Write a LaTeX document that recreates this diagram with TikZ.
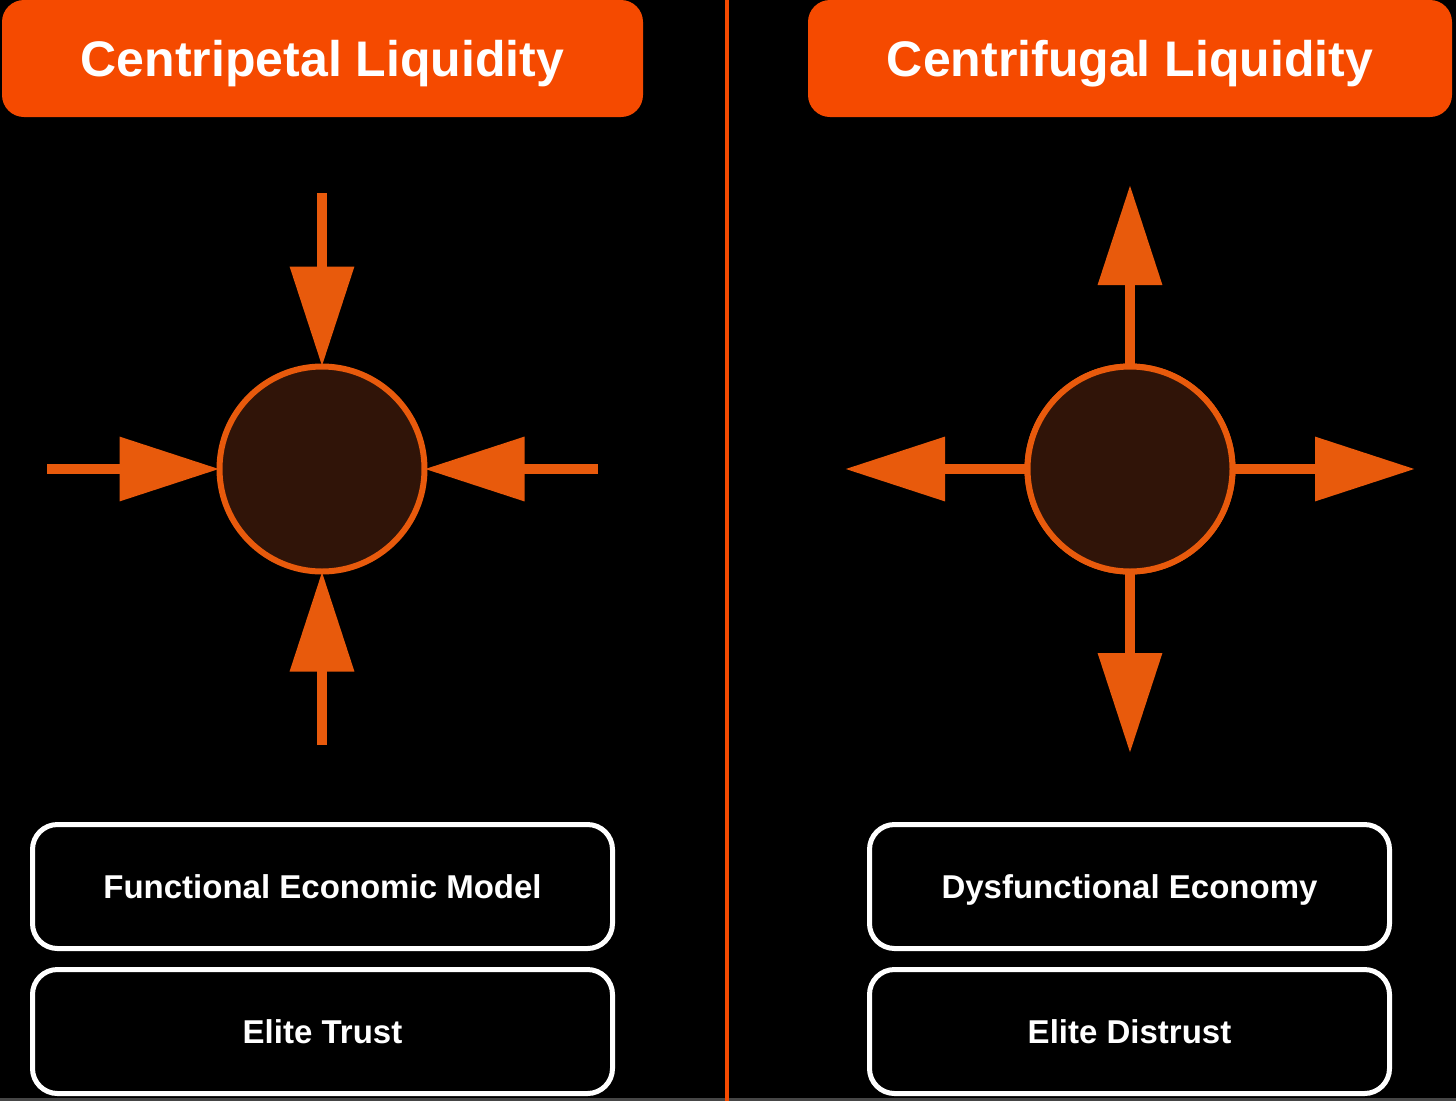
\documentclass[tikz,border=0pt]{standalone}
\usepackage{fontspec}
\setmainfont{Liberation Sans}
\usetikzlibrary{arrows.meta}
\definecolor{hdr}{RGB}{245,74,0}
\definecolor{arrc}{RGB}{232,90,12}
\definecolor{core}{RGB}{48,20,8}
\tikzset{
  header/.style={fill=hdr, draw=none, rounded corners=22pt, minimum height=117pt, inner sep=0pt, text=white, text height=36pt, text depth=0pt, font=\bfseries\fontsize{50}{60}\selectfont},
  hub/.style={circle, draw=arrc, line width=6pt, fill=core, minimum size=205pt, inner sep=0pt, outer sep=0pt},
  arr/.style={draw=arrc, line width=10pt, -{Triangle[length=100pt,width=62pt,fill=arrc]}},
  label box/.style={draw=white, line width=5pt, rounded corners=25pt, minimum height=124pt, inner sep=0pt, text=white, text height=23.6pt, text depth=0pt, font=\bfseries\fontsize{33}{40}\selectfont}
}
\begin{document}
\begin{tikzpicture}[x=1pt,y=-1pt]
\useasboundingbox (0,0) rectangle (1456,1101);
\fill[black] (0,0) rectangle (1456,1101);
\fill[gray!55!black] (0,1098) rectangle (1456,1101);
% divider
\draw[hdr, line width=4pt] (727,0) -- (727,1101);
% headers
\node[header, minimum width=641pt] (h1) at (322.5,58.5) {Centripetal Liquidity};
\node[header, minimum width=644pt] (h2) at (1130,58.5) {Centrifugal Liquidity};
% left: centripetal
\node[hub] (cl) at (322,469) {};
\coordinate (lt) at (322,193);
\coordinate (lb) at (322,745);
\coordinate (ll) at (47,469);
\coordinate (lr) at (598,469);
\draw[arr] (lt) -- (cl.north);
\draw[arr] (lb) -- (cl.south);
\draw[arr] (ll) -- (cl.west);
\draw[arr] (lr) -- (cl.east);
% right: centrifugal
\node[hub] (cr) at (1130,469) {};
\coordinate (rt) at (1130,185);
\coordinate (rb) at (1130,753);
\coordinate (rl) at (845,469);
\coordinate (rr) at (1415,469);
\draw[arr] (cr.north) -- (rt);
\draw[arr] (cr.south) -- (rb);
\draw[arr] (cr.west) -- (rl);
\draw[arr] (cr.east) -- (rr);
\node[hub] at (cr) {};
% boxes
\node[label box, minimum width=580pt] (b1) at (322.5,886.5) {Functional Economic Model};
\node[label box, minimum width=580pt] (b2) at (322.5,1031.5) {Elite Trust};
\node[label box, minimum width=520pt] (b3) at (1129.5,886.5) {Dysfunctional Economy};
\node[label box, minimum width=520pt] (b4) at (1129.5,1031.5) {Elite Distrust};
\end{tikzpicture}
\end{document}
